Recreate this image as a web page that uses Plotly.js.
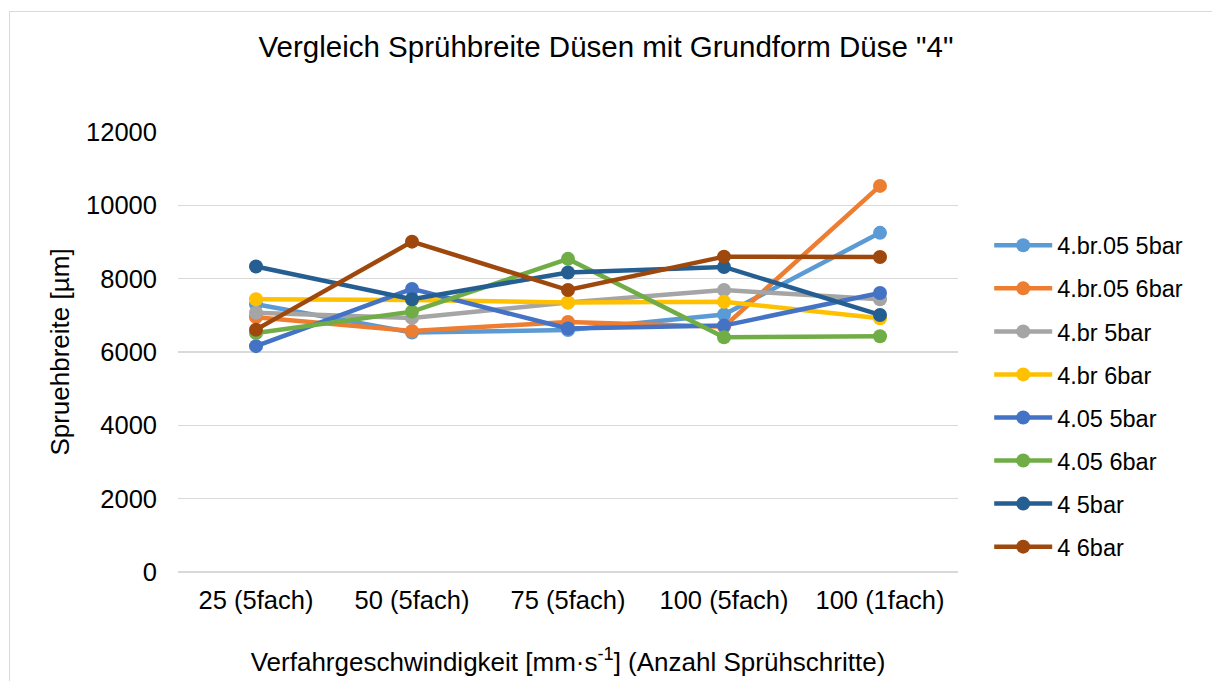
<!DOCTYPE html>
<html><head><meta charset="utf-8">
<script src="https://cdn.plot.ly/plotly-3.0.1.min.js"></script>
<style>
body{margin:0;overflow:hidden;background:#fff}
#c{width:1212px;height:681px;position:relative}
#frame{position:absolute;left:9px;top:11px;width:1400px;height:900px;border-top:1.5px solid #d9d9d9;border-left:1.5px solid #d9d9d9;pointer-events:none}
</style></head>
<body>
<div id="c"></div><div id="frame"></div>
<script>
const categories = ["25 (5fach)", "50 (5fach)", "75 (5fach)", "100 (5fach)", "100 (1fach)"];
const seriesNames = ["4.br.05 5bar", "4.br.05 6bar", "4.br 5bar", "4.br 6bar", "4.05 5bar", "4.05 6bar", "4 5bar", "4 6bar"];
const s_br05_5 = [7300, 6530, 6600, 7020, 9250];
const s_br05_6 = [6950, 6570, 6820, 6690, 10530];
const s_br_5 = [7070, 6930, 7350, 7690, 7440];
const s_br_6 = [7440, 7420, 7350, 7370, 6920];
const s_05_5 = [6160, 7720, 6640, 6720, 7610];
const s_05_6 = [6520, 7100, 8540, 6400, 6430];
const s_4_5 = [8330, 7440, 8170, 8320, 7010];
const s_4_6 = [6610, 9010, 7690, 8600, 8590];
const colors = ["#5B9BD5", "#ED7D31", "#A5A5A5", "#FFC000", "#4472C4", "#70AD47", "#255E91", "#9E480E"];
const values = [s_br05_5, s_br05_6, s_br_5, s_br_6, s_05_5, s_05_6, s_4_5, s_4_6];
const font = "Liberation Sans, Arial, sans-serif";
const traces = values.map((v, i) => ({
  x: categories, y: v, name: seriesNames[i], type: "scatter", mode: "lines+markers",
  legendgroup: "g" + i,
  line: {color: colors[i], width: 4.5},
  marker: {color: colors[i], size: 14}
}));
const layout = {
  width: 1212, height: 681,
  margin: {l: 178, r: 254, t: 132, b: 109},
  paper_bgcolor: "#fff", plot_bgcolor: "#fff",
  font: {family: font, color: "#000"},
  title: {text: 'Vergleich Sprühbreite Düsen mit Grundform Düse "4"', font: {size: 29.5, color: "#000"}, x: 0.5, xanchor: "center", y: 0.931, yanchor: "middle"},
  xaxis: {
    type: "category", showgrid: false, zeroline: false, showline: false,
    ticks: "", tickfont: {size: 25.5}, range: [-0.5, 4.5], ticklabelstandoff: 10,
    title: {text: "Verfahrgeschwindigkeit [mm·s<sup>-1</sup>] (Anzahl Sprühschritte)", font: {size: 26}, standoff: 40}
  },
  yaxis: {
    range: [0, 12000], tickvals: [0, 2000, 4000, 6000, 8000, 10000, 12000],
    ticktext: ["0", "2000", "4000", "6000", "8000", "10000", "12000"],
    showgrid: true, gridcolor: "#d9d9d9", gridwidth: 1.5, zeroline: true, zerolinecolor: "#d9d9d9", zerolinewidth: 1.5,
    showline: false, ticks: "", tickfont: {size: 25.5}, ticklabelstandoff: 20,
    title: {text: "Spruehbreite [µm]", font: {size: 26}, standoff: 8}
  },
  legend: {x: 1.04, xanchor: "left", y: 0.4, yanchor: "middle", font: {size: 23.5}, tracegroupgap: 9.5, itemwidth: 58, bgcolor: "rgba(0,0,0,0)"},
  showlegend: true
};
Plotly.newPlot("c", traces, layout, {displayModeBar: false, staticPlot: true});
</script>
</body></html>
